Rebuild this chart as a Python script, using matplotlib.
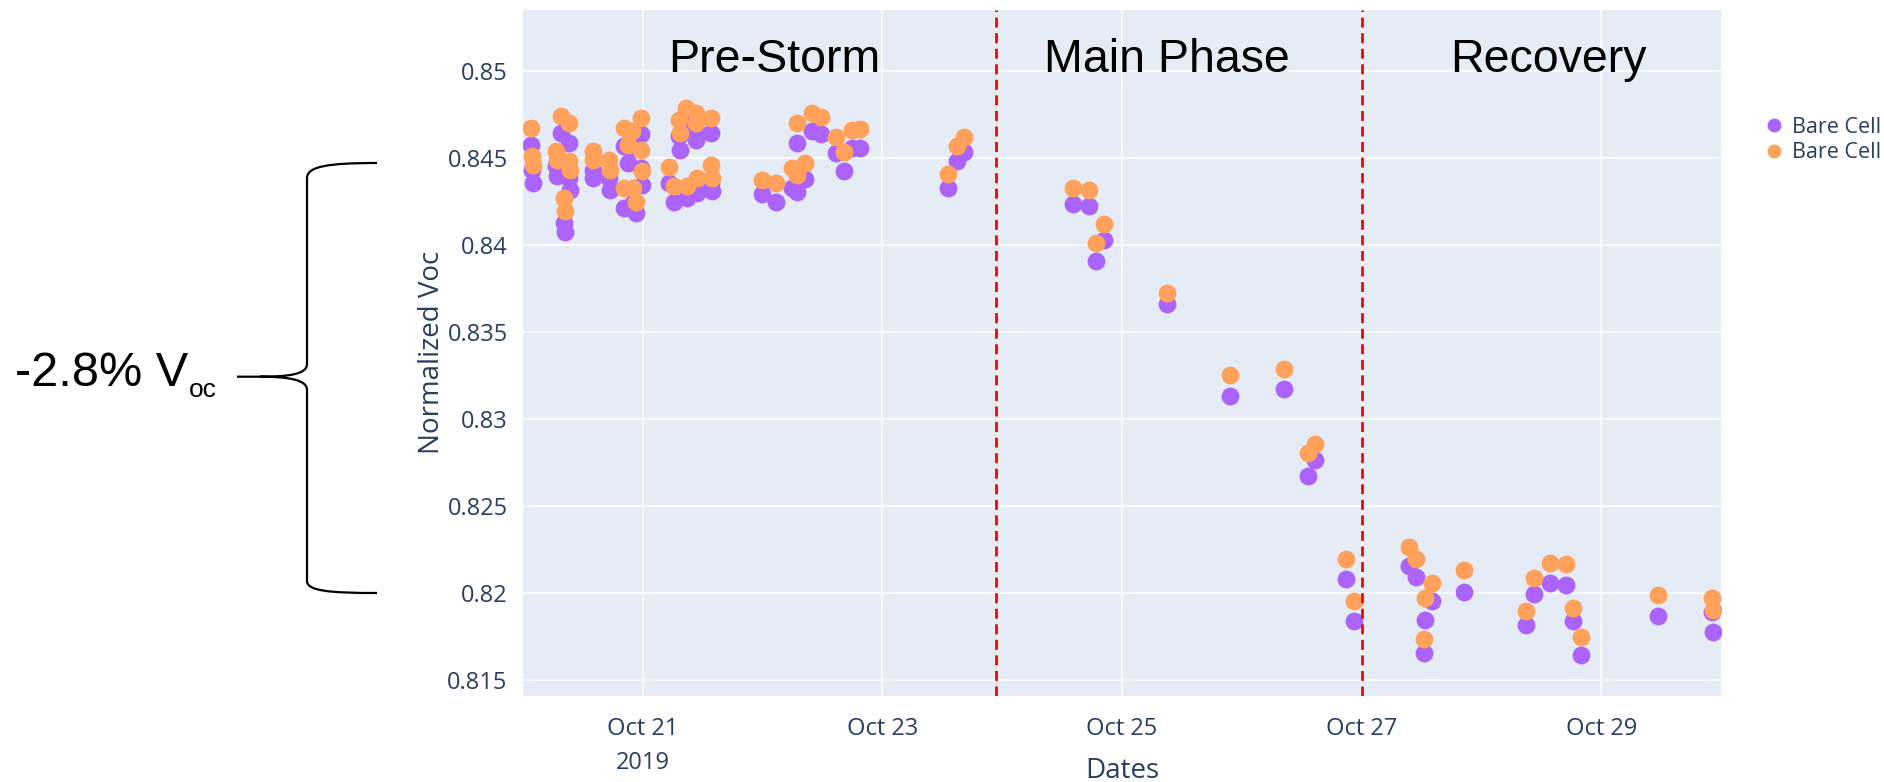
import numpy as np
import pandas as pd
import matplotlib
matplotlib.use("Agg")
import matplotlib.pyplot as plt
from matplotlib.path import Path
from matplotlib.patches import PathPatch
from matplotlib.lines import Line2D

# ---- data -------------------------------------------------------------------
times = [
    "2019-10-20 01:42", "2019-10-20 01:54", "2019-10-20 02:06", "2019-10-20 06:36",
    "2019-10-20 06:48", "2019-10-20 07:36", "2019-10-20 08:18", "2019-10-20 08:30",
    "2019-10-20 09:12", "2019-10-20 09:18", "2019-10-20 09:24", "2019-10-20 14:00",
    "2019-10-20 14:06", "2019-10-20 17:18", "2019-10-20 17:24", "2019-10-20 20:12",
    "2019-10-20 20:18", "2019-10-20 21:00", "2019-10-20 21:54", "2019-10-20 22:00",
    "2019-10-20 22:36", "2019-10-20 23:36", "2019-10-20 23:42", "2019-10-20 23:48",
    "2019-10-21 05:18", "2019-10-21 06:18", "2019-10-21 07:18", "2019-10-21 07:24",
    "2019-10-21 08:42", "2019-10-21 08:48", "2019-10-21 10:36", "2019-10-21 10:42",
    "2019-10-21 10:48", "2019-10-21 13:36", "2019-10-21 13:42", "2019-10-21 13:48",
    "2019-10-21 23:48", "2019-10-22 02:42", "2019-10-22 05:48", "2019-10-22 06:48",
    "2019-10-22 06:54", "2019-10-22 08:30", "2019-10-22 09:54", "2019-10-22 11:42",
    "2019-10-22 14:48", "2019-10-22 16:18", "2019-10-22 18:00", "2019-10-22 19:36",
    "2019-10-23 13:12", "2019-10-23 14:54", "2019-10-23 16:24",
    "2019-10-24 14:06", "2019-10-24 17:24", "2019-10-24 18:48", "2019-10-24 20:24",
    "2019-10-25 09:00", "2019-10-25 21:36", "2019-10-26 08:24", "2019-10-26 13:12",
    "2019-10-26 14:42", "2019-10-26 20:48", "2019-10-26 22:30",
    "2019-10-27 09:30", "2019-10-27 10:54", "2019-10-27 12:30", "2019-10-27 12:42",
    "2019-10-27 14:06", "2019-10-27 20:30", "2019-10-28 08:54", "2019-10-28 10:36",
    "2019-10-28 13:42", "2019-10-28 16:54", "2019-10-28 18:18", "2019-10-28 19:54",
    "2019-10-29 11:18", "2019-10-29 22:12", "2019-10-29 22:24",
]
voc_cell_a = [
    0.84577, 0.84433, 0.84356, 0.84452, 0.84398, 0.84644, 0.84129, 0.84077,
    0.84587, 0.84385, 0.84317, 0.84433, 0.84385, 0.84385, 0.84317, 0.84567,
    0.84212, 0.84471, 0.84558, 0.84240, 0.84183, 0.84635, 0.84442, 0.84346,
    0.84356, 0.84250, 0.84625, 0.84548, 0.84690, 0.84269, 0.84660, 0.84606,
    0.84298, 0.84644, 0.84356, 0.84308,
    0.84292, 0.84249, 0.84326, 0.84306, 0.84588, 0.84377, 0.84657, 0.84636,
    0.84527, 0.84425, 0.84556, 0.84560,
    0.84329, 0.84485, 0.84537,
    0.84236, 0.84224, 0.83906, 0.84029, 0.83659, 0.83132, 0.83171, 0.82674,
    0.82765, 0.82084, 0.81839,
    0.82155, 0.82094, 0.81659, 0.81845, 0.81954, 0.82007, 0.81816, 0.81998,
    0.82060, 0.82050, 0.81841, 0.81644, 0.81868, 0.81893, 0.81778,
]
voc_cell_b = [
    0.84673, 0.84510, 0.84462, 0.84538, 0.84490, 0.84740, 0.84269, 0.84198,
    0.84700, 0.84481, 0.84433, 0.84538, 0.84490, 0.84490, 0.84433, 0.84673,
    0.84327, 0.84577, 0.84654, 0.84327, 0.84250, 0.84731, 0.84548, 0.84423,
    0.84446, 0.84337, 0.84721, 0.84644, 0.84788, 0.84337, 0.84760, 0.84702,
    0.84385, 0.84731, 0.84462, 0.84385,
    0.84374, 0.84358, 0.84441, 0.84402, 0.84699, 0.84469, 0.84761, 0.84734,
    0.84623, 0.84537, 0.84661, 0.84665,
    0.84408, 0.84569, 0.84623,
    0.84326, 0.84316, 0.84010, 0.84121, 0.83722, 0.83253, 0.83287, 0.82803,
    0.82860, 0.82199, 0.81954,
    0.82266, 0.82199, 0.81740, 0.81970, 0.82061, 0.82132, 0.81898, 0.82090,
    0.82176, 0.82171, 0.81916, 0.81749, 0.81989, 0.81973, 0.81902,
]
series_names = ["Bare Cell", "Bare Cell"]
phase_bounds = ["2019-10-23 22:50", "2019-10-27 00:00"]
phase_names = ["Pre-Storm", "Main Phase", "Recovery"]
y_ticks = [0.815, 0.82, 0.825, 0.83, 0.835, 0.84, 0.845, 0.85]
x_tick_days = ["2019-10-21", "2019-10-23", "2019-10-25", "2019-10-27", "2019-10-29"]
drop_label = "-2.8% V"
drop_sub = "oc"

# ---- style ------------------------------------------------------------------
INK = "#2a3f5f"
PURPLE, ORANGE = "#AB63FA", "#FFA15A"
UI_FONT = ["Open Sans", "DejaVu Sans"]
ARIAL = ["Liberation Sans", "DejaVu Sans"]
W, H = 1884, 782

fig = plt.figure(figsize=(W / 100, H / 100), dpi=100)
ax = fig.add_axes([523 / W, 1 - 696 / H, (1721 - 523) / W, (696 - 10) / H])
ax.set_facecolor("#E5ECF6")
for s in ax.spines.values():
    s.set_visible(False)

t = pd.to_datetime(times)
ax.scatter(t, voc_cell_a, s=165, color=PURPLE, linewidths=0, zorder=3)
ax.scatter(t, voc_cell_b, s=165, color=ORANGE, linewidths=0, zorder=4)
for b in phase_bounds:
    ax.axvline(pd.Timestamp(b), color="red", lw=2.0, dashes=(3.6, 2.0), zorder=5)

ax.set_xlim(pd.Timestamp("2019-10-20 00:00"), pd.Timestamp("2019-10-30 00:00"))
ax.set_ylim(0.8141, 0.8535)
ax.set_yticks(y_ticks)
ax.set_yticklabels([f"{v:g}" for v in y_ticks])
xt = pd.to_datetime(x_tick_days)
ax.set_xticks(xt)
xl = [d.strftime("%b %d") for d in xt]
xl[0] = xl[0] + "\n2019"
ax.set_xticklabels(xl, linespacing=1.55, va="top")
ax.grid(color="white", lw=1.1)
ax.set_axisbelow(True)
ax.tick_params(length=0, colors=INK, labelsize=17)
ax.tick_params(axis="y", pad=11)
ax.tick_params(axis="x", pad=15)
for lab in ax.get_xticklabels() + ax.get_yticklabels():
    lab.set_family(UI_FONT)

# phase titles
for name, xf in zip(phase_names, [0.2095, 0.5376, 0.8556]):
    ax.text(xf, 0.9096, name, transform=ax.transAxes, ha="center", va="baseline",
            fontsize=33.5, family=ARIAL, color="black", zorder=6)

fig.text(432 / W, 1 - 352 / H, "Normalized Voc", rotation=90, ha="center", va="center",
         fontsize=20, color=INK, family=UI_FONT)
fig.text(1122 / W, 1 - 771 / H, "Dates", ha="center", va="center",
         fontsize=20, color=INK, family=UI_FONT)

handles = [Line2D([0], [0], marker="o", ls="", ms=10, markeredgewidth=0, color=c)
           for c in (PURPLE, ORANGE)]
leg = fig.legend(handles, series_names, loc="upper left",
                 bbox_to_anchor=(1748 / W, 1 - 106 / H), frameon=False,
                 handletextpad=0.15, labelspacing=0.2, borderpad=0, handlelength=1.4,
                 prop={"family": UI_FONT, "size": 15.5})
for txt in leg.get_texts():
    txt.set_color(INK)

# ---- brace annotation (pixel overlay) ---------------------------------------
ov = fig.add_axes([0, 0, 1, 1], zorder=-1)
ov.set_xlim(0, W)
ov.set_ylim(H, 0)
ov.axis("off")
M, C, L = Path.MOVETO, Path.CURVE4, Path.LINETO
verts = [(377, 163), (330, 163), (307, 166), (307, 178), (307, 364),
         (307, 374), (290, 376.7), (260, 376.7), (237, 376.7),
         (260, 376.7), (290, 376.7), (307, 380), (307, 390), (307, 581),
         (307, 591), (330, 593), (377, 593)]
codes = [M, C, C, C, L, C, C, C, L, M, C, C, C, L, C, C, C]
ov.add_patch(PathPatch(Path(verts, codes), fill=False, lw=1.6, ec="black"))

t1 = ov.text(15, 386, drop_label, ha="left", va="baseline", fontsize=35,
             family=ARIAL, color="black")
fig.canvas.draw()
bb = t1.get_window_extent()
ov.text(bb.x1 + 1, 397, drop_sub, ha="left", va="baseline", fontsize=19,
        family=ARIAL, color="black")

fig.savefig("out.png", dpi=100)
